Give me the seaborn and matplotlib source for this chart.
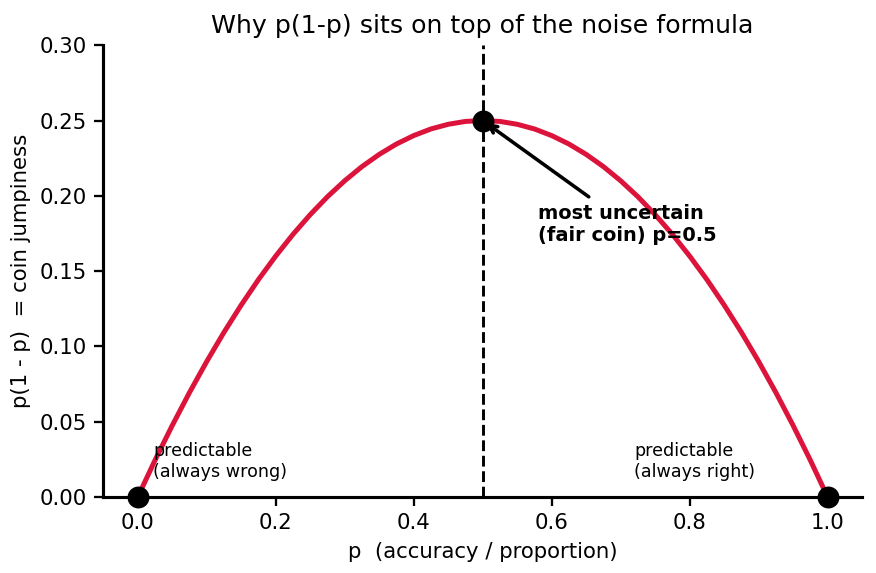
import matplotlib
matplotlib.use('Agg')
import matplotlib.pyplot as plt
import pandas as pd
import seaborn as sns

# values
p_vals = [0.0, 0.025, 0.05, 0.075, 0.1, 0.125, 0.15, 0.175, 0.2, 0.225, 0.25,
          0.275, 0.3, 0.325, 0.35, 0.375, 0.4, 0.425, 0.45, 0.475, 0.5,
          0.525, 0.55, 0.575, 0.6, 0.625, 0.65, 0.675, 0.7, 0.725, 0.75,
          0.775, 0.8, 0.825, 0.85, 0.875, 0.9, 0.925, 0.95, 0.975, 1.0]
jumpiness = [0.0, 0.0244, 0.0475, 0.0694, 0.09, 0.1094, 0.1275, 0.1444, 0.16, 0.1744, 0.1875,
             0.1994, 0.21, 0.2194, 0.2275, 0.2344, 0.24, 0.2444, 0.2475, 0.2494, 0.25,
             0.2494, 0.2475, 0.2444, 0.24, 0.2344, 0.2275, 0.2194, 0.21, 0.1994, 0.1875,
             0.1744, 0.16, 0.1444, 0.1275, 0.1094, 0.09, 0.0694, 0.0475, 0.0244, 0.0]

key_p = [0.0, 0.5, 1.0]
key_y = [0.0, 0.25, 0.0]

sns.set_style("ticks")
plt.rcParams['font.family'] = ['DejaVu Sans']
for k in ['text.color', 'axes.labelcolor', 'xtick.color', 'ytick.color', 'axes.edgecolor']:
    plt.rcParams[k] = 'black'

df = pd.DataFrame({'p': p_vals, 'y': jumpiness})
pts = pd.DataFrame({'p': key_p, 'y': key_y})

fig, ax = plt.subplots(figsize=(5.84, 3.82), dpi=150)
fig.subplots_adjust(left=0.118, right=0.984, top=0.921, bottom=0.133)

sns.lineplot(data=df, x='p', y='y', color='crimson', linewidth=2.4, ax=ax, zorder=2)
ax.axvline(0.5, color='black', linestyle='--', linewidth=1.4, zorder=1)
sns.scatterplot(data=pts, x='p', y='y', color='black', s=95, edgecolor='black',
                ax=ax, zorder=4, clip_on=False)

ax.annotate('most uncertain\n(fair coin) p=0.5', xy=(0.5, 0.25), xytext=(0.58, 0.17),
            fontsize=9.3, fontweight='bold', zorder=5,
            arrowprops=dict(arrowstyle='->', color='black', lw=1.7))
ax.text(0.022, 0.013, 'predictable\n(always wrong)', fontsize=8.4, zorder=5)
ax.text(0.72, 0.013, 'predictable\n(always right)', fontsize=8.4, zorder=5)

ax.set_xlim(-0.05, 1.05)
ax.set_ylim(0, 0.30)
ax.set_title('Why p(1-p) sits on top of the noise formula', fontsize=12.1)
ax.set_xlabel('p  (accuracy / proportion)', fontsize=10.2)
ax.set_ylabel('p(1 - p)  = coin jumpiness', fontsize=10.2)
ax.tick_params(labelsize=10.2, width=1.1, length=4.5)
for s in ['left', 'bottom']:
    ax.spines[s].set_linewidth(1.5)
sns.despine(ax=ax)

fig.savefig('out.png', dpi=150)
